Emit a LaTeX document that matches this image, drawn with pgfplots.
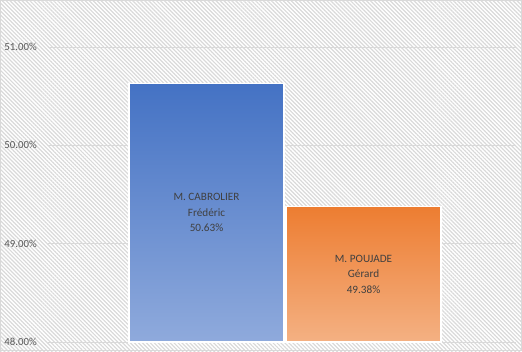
\documentclass[border=0pt]{standalone}
\usepackage{pgfplots}
\pgfplotsset{compat=1.18}
\usepackage{fontspec}
\setmainfont{Carlito}
\usetikzlibrary{patterns.meta}
\definecolor{bluetop}{RGB}{68,114,196}
\definecolor{bluebot}{RGB}{143,170,220}
\definecolor{orgtop}{RGB}{237,125,49}
\definecolor{orgbot}{RGB}{244,177,131}
\definecolor{gridc}{RGB}{217,217,217}
\definecolor{txt}{RGB}{89,89,89}
\definecolor{lbl}{RGB}{64,64,64}
\begin{document}
\begin{tikzpicture}
\fill[pattern={Lines[angle=-45,distance=2.8pt,line width=1.2pt]},pattern color=gridc] (-48pt,-9pt) rectangle (474pt,342pt);
\draw[gridc,line width=0.8pt] (-47.6pt,-8.6pt) rectangle (473.6pt,341.6pt);
\begin{axis}[
  at={(0pt,0pt)}, anchor=south west,
  scale only axis, width=468pt, height=295pt,
  xmin=-1.0096, xmax=1.971,
  ymin=48, ymax=51,
  ytick={48,49,50,51},
  xtick=\empty,
  ymajorgrids, grid style={gridc,line width=0.8pt},
  axis line style={draw=none},
  tick style={draw=none},
  /pgf/number format/assume math mode=true,
  yticklabel={\pgfmathprintnumber[fixed,fixed zerofill,precision=2]{\tick}\%},
  yticklabel style={font=\fontsize{10.8}{12}\selectfont, text=txt, anchor=east, inner sep=0pt, xshift=-11pt},
  clip=false,
]
\addplot[ybar, bar width=0.987, draw=white, line width=1.3pt, top color=bluetop, bottom color=bluebot] coordinates {(0,50.63)};
\addplot[ybar, bar width=0.987, draw=white, line width=1.3pt, top color=orgtop, bottom color=orgbot] coordinates {(1,49.38)};
\node[align=center, text=lbl, font=\fontsize{11.2}{15.5}\selectfont] at (axis cs:0,49.315) {M. CABROLIER\\Frédéric\\50.63\%};
\node[align=center, text=lbl, font=\fontsize{11.2}{15.5}\selectfont] at (axis cs:1,48.69) {M. POUJADE\\Gérard\\49.38\%};
\end{axis}
\end{tikzpicture}
\end{document}
